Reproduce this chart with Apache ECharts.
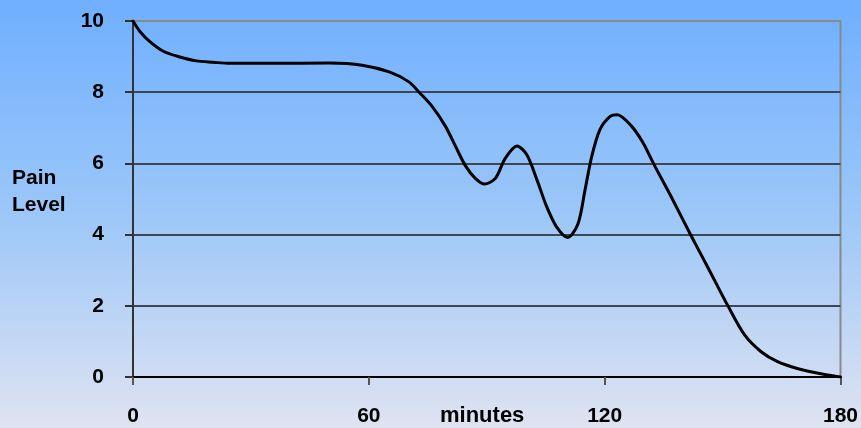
<!DOCTYPE html>
<html>
<head>
<meta charset="utf-8">
<script src="https://cdn.jsdelivr.net/npm/echarts@6/dist/echarts.min.js"></script>
<style>
  html, body { margin: 0; padding: 0; }
  #chart { width: 861px; height: 428px; }
</style>
</head>
<body>
<div id="chart"></div>
<script>
// Data
var minutes = [0, 1.8, 4.3, 7.7, 11.9, 16.1, 20.4, 24.6, 35, 50, 58.3, 65.2, 70.2, 72.8, 76.1, 79.5, 82.1, 84.6, 87.1, 89.4, 92.2, 94.7, 97.7, 100.2, 102.8, 105.3, 107.8, 110.6, 113.2, 115.0, 116.7, 118.8, 121.4, 123.2, 126.9, 129.8, 132.4, 137, 141.9, 146.3, 151.4, 155.6, 159.8, 164, 169, 176, 180];
var painLevel = [10, 9.70, 9.42, 9.15, 8.99, 8.88, 8.84, 8.81, 8.81, 8.82, 8.76, 8.57, 8.29, 8.0, 7.6, 7.04, 6.47, 5.93, 5.58, 5.42, 5.58, 6.14, 6.49, 6.24, 5.53, 4.77, 4.21, 3.92, 4.30, 5.25, 6.19, 6.95, 7.32, 7.37, 7.04, 6.57, 6.0, 5.05, 3.99, 3.07, 1.99, 1.18, 0.71, 0.43, 0.24, 0.07, 0];
var xTicks = [0, 60, 120, 180];
var yTicks = [0, 2, 4, 6, 8, 10];
var yAxisTitle = ['Pain', 'Level'];
var xAxisTitle = 'minutes';

var pts = minutes.map(function (t, i) { return [t, painLevel[i]]; });
var font = '"Liberation Sans", Arial, sans-serif';

var chart = echarts.init(document.getElementById('chart'), null, { renderer: 'canvas' });
chart.setOption({
  animation: false,
  backgroundColor: {
    type: 'linear', x: 0, y: 0, x2: 0, y2: 1,
    colorStops: [
      { offset: 0, color: '#6fafff' },
      { offset: 0.5, color: '#9cc7f8' },
      { offset: 1, color: '#dfe3f1' }
    ]
  },
  grid: {
    left: 133, right: 18, top: 21, bottom: 51,
    show: true, borderColor: '#8a8a8a', borderWidth: 2, backgroundColor: 'transparent'
  },
  xAxis: {
    type: 'value', min: xTicks[0], max: xTicks[xTicks.length - 1], interval: 60,
    axisLine: { show: true, lineStyle: { color: '#000', width: 2 } },
    axisTick: { show: true, length: 8, lineStyle: { color: '#555', width: 2 } },
    axisLabel: { margin: 29, fontFamily: font, fontWeight: 'bold', fontSize: 21, color: '#000' },
    splitLine: { show: false }
  },
  yAxis: {
    type: 'value', min: yTicks[0], max: yTicks[yTicks.length - 1], interval: 2,
    axisLine: { show: true, lineStyle: { color: '#333', width: 2 } },
    axisTick: { show: true, length: 8, lineStyle: { color: '#333', width: 2 } },
    axisLabel: { margin: 29, fontFamily: font, fontWeight: 'bold', fontSize: 21, color: '#000' },
    splitLine: { show: true, lineStyle: { color: ['#000', '#3b4656', '#3b4656', '#3b4656', '#3b4656', '#8a8a8a'], width: 2 } }
  },
  graphic: [
    { type: 'text', left: 12, top: 168, style: { text: yAxisTitle[0], font: 'bold 21px ' + font, fill: '#000' } },
    { type: 'text', left: 12, top: 195, style: { text: yAxisTitle[1], font: 'bold 21px ' + font, fill: '#000' } },
    { type: 'text', left: 440, top: 405, style: { text: xAxisTitle, font: 'bold 22px ' + font, fill: '#000' } }
  ],
  series: [{
    type: 'line',
    data: pts,
    smooth: 0.3,
    symbol: 'none',
    lineStyle: { color: '#000', width: 3, join: 'round', cap: 'round' },
    z: 5
  }]
});
</script>
</body>
</html>
